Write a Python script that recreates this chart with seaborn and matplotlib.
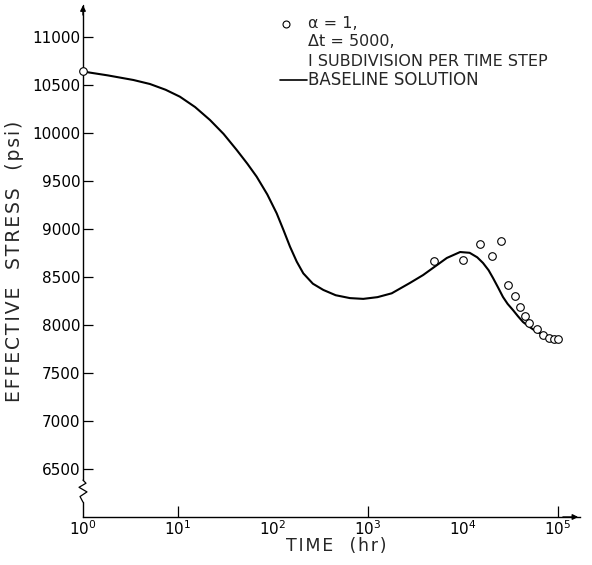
import numpy as np
import pandas as pd
import matplotlib
matplotlib.use("Agg")
import matplotlib.pyplot as plt
import seaborn as sns

# Baseline solution (log10 of time in hr, effective stress in psi)
base_log_t = [0.0, 0.26, 0.53, 0.705, 0.87, 1.02, 1.18, 1.337, 1.48, 1.618, 1.73,
              1.828, 1.94, 2.039, 2.11, 2.179, 2.25, 2.319, 2.42, 2.53, 2.66, 2.81,
              2.95, 3.1, 3.25, 3.44, 3.58, 3.684, 3.83, 3.97, 4.07, 4.15, 4.211,
              4.27, 4.316, 4.37, 4.421, 4.47, 4.526, 4.58, 4.632, 4.70, 4.779,
              4.86, 4.947, 5.0]
base_stress = [10640, 10600, 10552, 10510, 10450, 10378, 10270, 10135, 9990, 9823,
               9680, 9545, 9360, 9163, 8990, 8816, 8660, 8538, 8430, 8365, 8310,
               8280, 8272, 8290, 8330, 8437, 8520, 8594, 8698, 8760, 8752, 8705,
               8646, 8570, 8490, 8390, 8292, 8220, 8156, 8090, 8031, 7980, 7927,
               7895, 7875, 7862]

# alpha = 1, dt = 5000 solution
pts_time = [1, 5000, 10000, 15000, 20000, 25000, 30000, 35000, 40000, 45000,
            50000, 60000, 70000, 80000, 90000, 100000]
pts_stress = [10646, 8667, 8677, 8844, 8719, 8875, 8417, 8302, 8187, 8094,
              8021, 7958, 7896, 7865, 7854, 7854]

ytick_vals = [6500, 7000, 7500, 8000, 8500, 9000, 9500, 10000, 10500, 11000]
xtick_exps = [0, 1, 2, 3, 4, 5]

legend_lines = ["\u03b1 = 1,", "\u0394t = 5000,", "I SUBDIVISION PER TIME STEP"]
legend_base = "BASELINE SOLUTION"

sns.set_theme(style="white")
plt.rcParams['font.family'] = ['DejaVu Sans']
plt.rcParams['mathtext.default'] = 'regular'

base_df = pd.DataFrame({"time": [10 ** v for v in base_log_t], "stress": base_stress})
pts_df = pd.DataFrame({"time": pts_time, "stress": pts_stress})

fig = plt.figure(figsize=(5.92, 5.65), dpi=100)
ax = fig.add_axes([83 / 592, 48 / 565, 497 / 592, 512 / 565])

sns.lineplot(data=base_df, x="time", y="stress", ax=ax, color="black", lw=1.5,
             sort=False, estimator=None)
sns.scatterplot(data=pts_df, x="time", y="stress", ax=ax, marker="o", s=30,
                facecolor="white", edgecolor="black", linewidth=0.8, zorder=5, clip_on=False)

ax.set_xscale("log")
ax.set_xlim(1, 10 ** 5.232)
ax.set_ylim(6000, 11333)

ax.set_xticks([10 ** e for e in xtick_exps])
ax.set_xticklabels([f"$10^{{{e}}}$" for e in xtick_exps], fontsize=11)
ax.xaxis.set_minor_locator(matplotlib.ticker.NullLocator())
ax.set_yticks(ytick_vals)
ax.set_yticklabels([str(v) for v in ytick_vals], fontsize=11)

ax.tick_params(axis="y", direction="in", length=7, width=0.9, pad=2, colors="black",
               left=True)
ax.tick_params(axis="x", direction="in", length=8, width=0.9, pad=2, colors="black",
               bottom=True)
for i, t in enumerate(ax.xaxis.get_major_ticks()):
    if xtick_exps[i] in (0, 2, 4):
        t.tick1line.set_visible(False)

hs = "\u200a"
ax.set_xlabel(hs.join("TIME  (hr)"), fontsize=12.5, labelpad=-1)
ax.xaxis.label.set_x(0.51)
ax.set_ylabel(hs.join("EFFECTIVE  STRESS  (psi)"), fontsize=13.5, labelpad=6)

for s in ["top", "right", "left"]:
    ax.spines[s].set_visible(False)
ax.spines["bottom"].set_color("black")
ax.spines["bottom"].set_linewidth(1.0)

# y axis line with break symbol
tr = ax.transAxes
ax.plot([0, 0], [0, 0.029], color="black", lw=1.0, transform=tr, clip_on=False)
zx = [0, -0.006, 0.008, -0.008, 0.006, 0]
zy = [0.029, 0.040, 0.049, 0.058, 0.066, 0.072]
ax.plot(zx, zy, color="black", lw=0.9, transform=tr, clip_on=False)
ax.plot([0, 0], [0.072, 1.0], color="black", lw=1.0, transform=tr, clip_on=False)
ax.annotate("", xy=(0, 1.005), xytext=(0, 0.975), xycoords=tr,
            arrowprops=dict(arrowstyle="-|>", color="black", lw=1.0,
                            mutation_scale=8), annotation_clip=False)
ax.annotate("", xy=(1.002, 0), xytext=(0.96, 0), xycoords=tr,
            arrowprops=dict(arrowstyle="-|>", color="black", lw=1.0,
                            mutation_scale=8), annotation_clip=False)

# legend
ax.plot([0.408], [0.963], marker="o", ms=5, mfc="white", mec="black", mew=0.8,
        transform=tr, clip_on=False)
ys = [0.963, 0.928, 0.889]
for y, txt in zip(ys, legend_lines):
    ax.text(0.453, y, txt, transform=tr, fontsize=11.5, va="center", ha="left")
ax.plot([0.396, 0.451], [0.854, 0.854], color="black", lw=1.2, transform=tr)
ax.text(0.453, 0.854, legend_base, transform=tr, fontsize=12, va="center", ha="left")

fig.savefig("out.png", dpi=100, facecolor="white")
